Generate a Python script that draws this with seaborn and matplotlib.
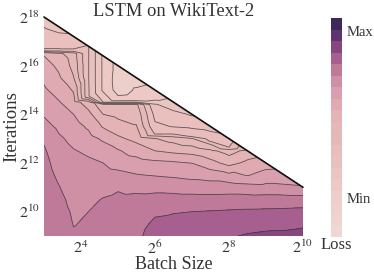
import numpy as np
import matplotlib
matplotlib.use("Agg")
import matplotlib.pyplot as plt
import seaborn as sns

TITLE = "LSTM on WikiText-2"
X_TICKS = [4, 6, 8, 10]
Y_TICKS = [10, 12, 14, 16, 18]
BUDGET = 21.0  # log2(batch) + log2(iterations) upper limit

batch_log2 = [3, 3.4, 3.8, 4.2, 4.6, 5, 5.5, 6, 6.5, 7, 7.5, 8, 8.5, 9, 9.5, 10]

# loss level per column, from log2(iterations)=9 upward in 0.5 steps, last value on the budget limit
loss_b30 = [14.9,14.85,14.8,14.7,14.6,14.45,14.3,14.12,13.87,13.36,12.9,12.5,12.15,11.8,11.4,10.9,6.7,6.1,5.5]
loss_b34 = [14.85,14.75,14.6,14.3,14.05,13.8,13.6,13.4,13.15,12.8,12.45,12.07,11.6,11.15,10.8,10.2,6.7,5.5]
loss_b38 = [14.15,13.95,13.8,13.65,13.5,13.35,13.2,13.05,12.75,12.4,12.0,11.4,10.9,10.05,9.7,9.5,6.6,6.2]
loss_b42 = [14.3,14.15,14.0,13.8,13.6,13.4,13.15,12.85,12.35,11.85,11.3,10.5,7.1,7.05,7.05,7.05,7.05]
loss_b46 = [14.6,14.45,14.3,14.05,13.7,13.35,13.0,12.45,11.85,10.9,10.0,6.0,4.8,4.8,4.8,4.8]
loss_b50 = [14.6,14.5,14.35,14.18,13.9,13.25,12.65,12.1,11.2,10.4,9.75,6.0,3.6,3.5,3.6]
loss_b55 = [14.85,14.75,14.55,14.25,13.75,13.05,12.45,11.55,10.7,10.05,9.7,6.0,4.1,3.6]
loss_b60 = [15.3,15.12,14.9,14.35,13.7,12.95,12.25,11.0,10.05,7.2,6.7,5.5,4.3]
loss_b65 = [15.45,15.25,14.95,14.35,13.65,12.85,12.15,10.75,9.6,6.95,6.3,5.3]
loss_b70 = [15.6,15.35,15.0,14.35,13.55,12.7,11.98,10.6,9.1,6.8,5.9]
loss_b75 = [15.75,15.5,15.05,14.35,13.5,12.55,11.35,10.2,7.6,6.6]
loss_b80 = [15.9,15.6,15.1,14.4,13.5,12.25,10.65,9.6,7.3]
loss_b85 = [16.1,15.6,15.15,14.4,13.4,11.95,11.25,10.3]
loss_b90 = [16.2,15.7,15.17,14.45,13.3,12.35,11.6]
loss_b95 = [16.25,15.7,15.2,14.45,13.2,12.4]
loss_b100 = [16.4,15.8,15.25,14.45,13.1]

loss_columns = [loss_b30, loss_b34, loss_b38, loss_b42, loss_b46, loss_b50, loss_b55, loss_b60,
                loss_b65, loss_b70, loss_b75, loss_b80, loss_b85, loss_b90, loss_b95, loss_b100]

# extra readings around the sharp steps: batch column -> (log2 iterations, loss)
step_readings = {
    3: [(16.65, 7.05)], 3.4: [(16.65, 7.05)], 3.8: [(16.65, 7.05)],
    4.2: [(14.75, 7.1)], 4.6: [(14.4, 9.3)],
    5: [(14.4, 9.2), (14.6, 4.3)], 5.5: [(14.4, 9.2), (14.6, 4.4)],
    6: [(13.1, 9.1), (13.2, 7.9), (14.4, 6.1), (14.6, 4.9)],
    6.5: [(13.1, 8.8), (13.2, 7.9)], 7: [(13.1, 7.8)],
    7.5: [(12.75, 9.1), (12.9, 7.9)], 8: [(12.65, 8.0)],
}

band_colors = ["#efd8d3", "#eed4cf", "#eed1cc", "#edcec9", "#ecc9c5", "#ebc5c1", "#e9c0bd",
               "#e8bdbb", "#e6b9b9", "#e5b7b7", "#e4b3b6", "#e0aab2", "#d99fae", "#cf90a6",
               "#bf7a9a", "#a65f8e", "#864680", "#5f3571", "#3e2857"]

sns.set_theme(style="white", font="Liberation Serif")
plt.rcParams["mathtext.fontset"] = "stix"
TEXT = "#333333"

xs, ys, zs = [], [], []
for bx, col in zip(batch_log2, loss_columns):
    top = BUDGET - bx
    rows = [v for v in np.arange(9, 18.01, 0.5) if v <= top - 0.2] + [top]
    for ry, rz in zip(rows, col, strict=True):
        xs.append(bx); ys.append(ry); zs.append(rz)
    for ry, rz in step_readings.get(bx, []):
        xs.append(bx); ys.append(ry); zs.append(rz)

fig = plt.figure(figsize=(3.74, 2.77), dpi=100)
W, H = 374.0, 277.0
ax = fig.add_axes([44/W, 1-236/H, (303-44)/W, (236-17)/H])
levels = np.arange(0, 20)
filled = ax.tricontourf(xs, ys, zs, levels=levels, colors=band_colors)
ax.tricontour(xs, ys, zs, levels=levels[1:], colors="#333333", linewidths=0.6, alpha=0.75)

edge_x = np.array([batch_log2[0], batch_log2[-1]])
sns.lineplot(x=edge_x, y=BUDGET - edge_x, color="#111111", linewidth=1.2, ax=ax, clip_on=False)

ax.set_xlim(3, 10)
ax.set_ylim(9, 18)
ax.set_xticks(X_TICKS, [f"$2^{{{t}}}$" for t in X_TICKS], fontsize=11.5, color=TEXT)
ax.set_yticks(Y_TICKS, [f"$2^{{{t}}}$" for t in Y_TICKS], fontsize=11.5, color=TEXT)
ax.tick_params(length=0, pad=3)
ax.set_xlabel("Batch Size", fontsize=13, color=TEXT, labelpad=-1)
ax.set_ylabel("Iterations", fontsize=13.5, color=TEXT, labelpad=-1)
ax.set_title(TITLE, fontsize=13.3, color=TEXT, pad=1)
sns.despine(ax=ax, left=True, bottom=True)

cax = fig.add_axes([331/W, 1-237/H, 11/W, 219/H])
cb = fig.colorbar(filled, cax=cax, ticks=[17.87, 3.4])
cb.ax.set_yticklabels(["Max", "Min"], fontsize=10.5, color=TEXT)
cb.ax.tick_params(length=0, pad=3)
cb.outline.set_visible(False)
cb.ax.set_xlabel("Loss", fontsize=12, color=TEXT, labelpad=0)

fig.savefig("out.png", dpi=100)
